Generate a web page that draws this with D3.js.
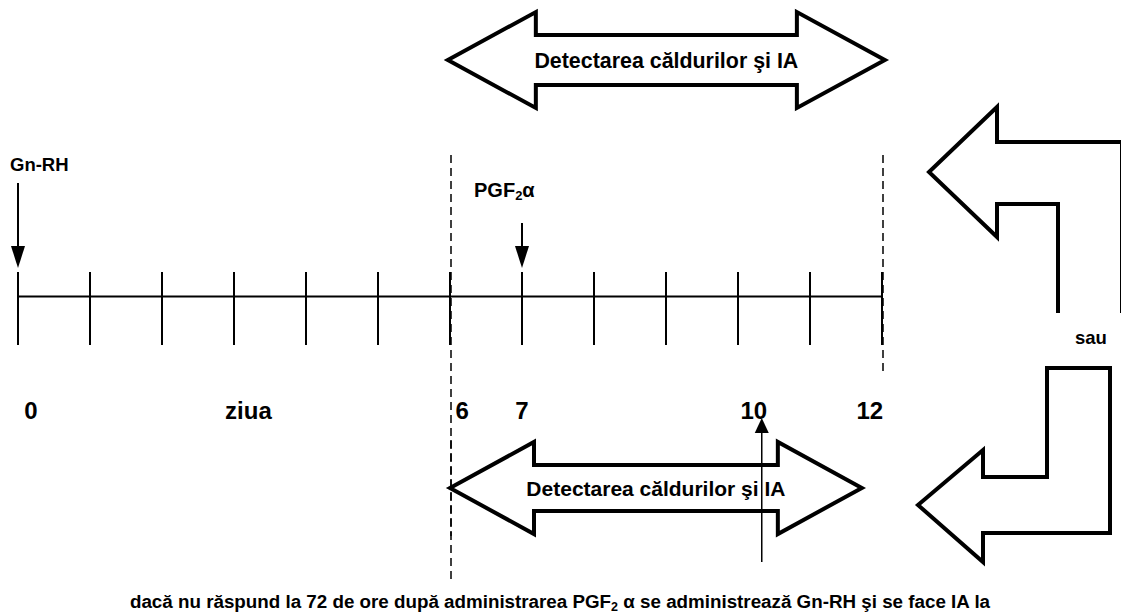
<!DOCTYPE html>
<html><head><meta charset="utf-8">
<script src="https://cdn.jsdelivr.net/npm/d3@7"></script>
<style>
html,body{margin:0;padding:0;background:#fff;}
svg{display:block;font-family:"Liberation Sans",Arial,sans-serif;font-weight:bold;}
</style></head>
<body>
<svg id="c" width="1121" height="616"></svg>
<script>
// ---- data ----
const days = [0,1,2,3,4,5,6,7,8,9,10,11,12];
const dayLabels = ["0","ziua","6","7","10","12"];
const dayLabelPos = [0.18, 3.2, 6.17, 7, 10.22, 11.83];
const dashedDays = [6, 12];
const downEvents = ["Gn-RH", "PGF2α"];
const downEventDays = [0, 7];
const upEventDay = [10.33];
const topSpan = [5.97, 12.04];
const bottomSpan = [6.0, 11.72];
const arrowText = "Detectarea căldurilor şi IA";
const sideText = "sau";
const footText = ["dacă nu răspund la 72 de ore după administrarea PGF", "2", " α se administrează Gn-RH şi se face IA la"];

const svg = d3.select("#c");
const x = d3.scaleLinear().domain([0, 12]).range([18, 882]);
const axisY = 296;

// axis line + ticks
const axis = d3.axisBottom(x).tickValues(days).tickSize(0).tickFormat("");
const ag = svg.append("g").attr("transform", `translate(0,${axisY})`).call(axis);
ag.select(".domain").attr("stroke", "#000").attr("stroke-width", 2);
svg.append("g").selectAll("line").data(days).join("line")
  .attr("x1", d => x(d)).attr("x2", d => x(d))
  .attr("y1", axisY - 24).attr("y2", axisY + 49)
  .attr("stroke", "#000").attr("stroke-width", 2);

// dashed verticals
svg.append("g").selectAll("line").data(dashedDays).join("line")
  .attr("x1", d => x(d) + 1).attr("x2", d => x(d) + 1)
  .attr("y1", 155).attr("y2", (d, i) => i === 0 ? 580 : 374)
  .attr("stroke", "#000").attr("stroke-width", 1.5)
  .attr("stroke-dasharray", "8,5");

// day labels
svg.append("g").selectAll("text").data(dayLabels).join("text")
  .attr("x", (d, i) => x(dayLabelPos[i])).attr("y", 419)
  .attr("text-anchor", "middle").attr("font-size", 24).text(d => d);

// down arrows
function downArrow(cx, y0, y1) {
  const g = svg.append("g");
  g.append("line").attr("x1", cx).attr("x2", cx).attr("y1", y0).attr("y2", y1 - 20)
    .attr("stroke", "#000").attr("stroke-width", 2);
  g.append("path").attr("d", `M${cx - 7},${y1 - 22}L${cx + 7},${y1 - 22}L${cx},${y1}Z`).attr("fill", "#000");
}
downArrow(x(downEventDays[0]), 183, 268);
downArrow(x(downEventDays[1]), 223, 268);
svg.append("text").attr("x", x(downEventDays[0]) - 8).attr("y", 171).attr("font-size", 18.5).text(downEvents[0]);
const pg = svg.append("text").attr("x", x(downEventDays[1]) - 48).attr("y", 197).attr("font-size", 20);
pg.append("tspan").text("PGF");
pg.append("tspan").attr("font-size", 13).attr("dy", 3).text("2");
pg.append("tspan").attr("dy", -3).text("α");

// up arrow
(function () {
  const cx = x(upEventDay[0]);
  svg.append("path").attr("d", `M${cx - 7},${433}L${cx + 7},${433}L${cx},${418}Z`).attr("fill", "#000");
})();

// double arrows
function doubleArrow(x0, x1, cy, headLen, headHalf, shaftHalf) {
  const p = [
    [x0, cy], [x0 + headLen, cy - headHalf], [x0 + headLen, cy - shaftHalf],
    [x1 - headLen, cy - shaftHalf], [x1 - headLen, cy - headHalf], [x1, cy],
    [x1 - headLen, cy + headHalf], [x1 - headLen, cy + shaftHalf],
    [x0 + headLen, cy + shaftHalf], [x0 + headLen, cy + headHalf]
  ];
  svg.append("path").attr("d", d3.line()(p) + "Z")
    .attr("fill", "#fff").attr("stroke", "#000").attr("stroke-width", 4)
    .attr("stroke-linejoin", "miter");
}
doubleArrow(x(topSpan[0]), x(topSpan[1]), 60, 88, 48, 25);
svg.append("text").attr("x", (x(topSpan[0]) + x(topSpan[1])) / 2).attr("y", 67.5)
  .attr("text-anchor", "middle").attr("font-size", 21.4).text(arrowText);

doubleArrow(x(bottomSpan[0]), x(bottomSpan[1]), 488, 84, 46, 23);
(function () {
  const cx = x(upEventDay[0]);
  svg.append("text").attr("x", (x(bottomSpan[0]) + x(bottomSpan[1])) / 2).attr("y", 495.5)
    .attr("text-anchor", "middle").attr("font-size", 21).text(arrowText);
  svg.append("line").attr("x1", cx).attr("x2", cx).attr("y1", 562).attr("y2", 432)
    .attr("stroke", "#000").attr("stroke-width", 1.5);
  svg.append("line").attr("x1", x(dashedDays[0]) + 1).attr("x2", x(dashedDays[0]) + 1)
    .attr("y1", 440).attr("y2", 536).attr("stroke", "#000").attr("stroke-width", 1.5)
    .attr("stroke-dasharray", "8,5");
})();

// right-side bent arrows
const lineGen = d3.line();
svg.append("path").attr("d", lineGen([
  [1058, 313], [1058, 204], [997, 204], [997, 237], [929, 172], [997, 107], [997, 142], [1122, 142], [1122, 313]
])).attr("fill", "#fff").attr("stroke", "#000").attr("stroke-width", 4);
svg.append("path").attr("d", lineGen([
  [1047, 368], [1110, 368], [1110, 533], [983, 533], [983, 562], [918, 505], [983, 450], [983, 477], [1047, 477]
]) + "Z").attr("fill", "#fff").attr("stroke", "#000").attr("stroke-width", 4);
svg.append("text").attr("x", 1091).attr("y", 344).attr("text-anchor", "middle").attr("font-size", 18.5).text(sideText);

// footer
const ft = svg.append("text").attr("x", 560).attr("y", 608).attr("text-anchor", "middle").attr("font-size", 18.8);
ft.append("tspan").text(footText[0]);
ft.append("tspan").attr("font-size", 12.5).attr("dy", 3).text(footText[1]);
ft.append("tspan").attr("dy", -3).text(footText[2]);
</script>
</body></html>
